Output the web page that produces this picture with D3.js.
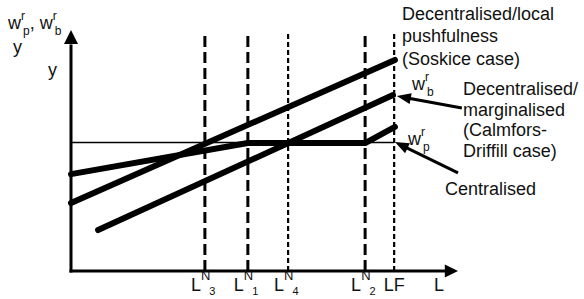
<!DOCTYPE html>
<html>
<head>
<meta charset="utf-8">
<script src="https://cdn.jsdelivr.net/npm/d3@7"></script>
<style>
  body { margin: 0; background: #fff; }
  text { font-family: "Liberation Sans", Arial, Helvetica, sans-serif; fill: #111; }
</style>
</head>
<body>
<div id="chart"></div>
<script>
// Positions along L (0..100) and wage (0..100)
var markerSubs = ["3", "1", "4", "2"];
var markerPos = [34.6, 45.7, 56.1, 76.0];
var markerHeavy = [true, true, false, true];
var lfPos = 83.5;

// the three real wage lines
var soskiceX = [0, 83.7],
    soskiceY = [28.2, 87.6];
var marginalX = [7.0, 83.2],
    marginalY = [17.0, 73.0];
var centralX = [0, 45.7, 76.0, 83.7],
    centralY = [40.2, 53.1, 53.1, 59.8];

// flat y line
var flatLevel = 53.3;

// annotation arrows: [tailX, tailY, tipX, tipY]
var arrowB = [101.0, 67.6, 84.2, 72.6];
var arrowP = [100.0, 40.7, 83.7, 53.5];

var width = 584,
    height = 299;

var x = d3.scaleLinear().domain([0, 100]).range([71, 458]);
var y = d3.scaleLinear().domain([0, 100]).range([271, 30]);

var svg = d3.select("#chart")
            .append("svg")
              .attr("width", width)
              .attr("height", height);

var line = d3.line()
             .x(function(d) { return x(d[0]); })
             .y(function(d) { return y(d[1]); });

// Dashed vertical lines
var dashTop = 98.5;
svg.selectAll(".marker")
   .data(markerPos)
   .enter()
   .append("line")
     .attr("x1", function(d) { return x(d); })
     .attr("x2", function(d) { return x(d); })
     .attr("y1", y(0))
     .attr("y2", y(dashTop))
     .attr("stroke", "#000")
     .attr("stroke-width", function(d, i) { return markerHeavy[i] ? 3 : 2.2; })
     .attr("stroke-dasharray", function(d, i) { return markerHeavy[i] ? "11,5" : "5,3"; });

svg.append("line")
   .attr("x1", x(lfPos)).attr("x2", x(lfPos))
   .attr("y1", y(0)).attr("y2", y(dashTop))
   .attr("stroke", "#000")
   .attr("stroke-width", 2.2)
   .attr("stroke-dasharray", "5,3");

// thin horizontal line
svg.append("line")
   .attr("x1", x(0)).attr("x2", x(lfPos))
   .attr("y1", y(flatLevel)).attr("y2", y(flatLevel))
   .attr("stroke", "#000")
   .attr("stroke-width", 1.6);

// thick lines
var series = [
  d3.zip(soskiceX, soskiceY),
  d3.zip(marginalX, marginalY),
  d3.zip(centralX, centralY)
];
svg.selectAll(".wage")
   .data(series)
   .enter()
   .append("path")
     .attr("d", line)
     .attr("fill", "none")
     .attr("stroke", "#000")
     .attr("stroke-width", 6)
     .attr("stroke-linecap", "round")
     .attr("stroke-linejoin", "round");

// Axes
svg.append("line")
   .attr("x1", x(0)).attr("x2", x(0))
   .attr("y1", y(0) + 1.5).attr("y2", y(94))
   .attr("stroke", "#000").attr("stroke-width", 3);
svg.append("path")
   .attr("d", "M" + (x(0) - 7) + "," + y(94.2) + "L" + x(0) + "," + y(100) + "L" + (x(0) + 7) + "," + y(94.2) + "Z")
   .attr("fill", "#000");

svg.append("line")
   .attr("x1", x(0) - 1.5).attr("x2", x(96.8))
   .attr("y1", y(0)).attr("y2", y(0))
   .attr("stroke", "#000").attr("stroke-width", 3);
svg.append("path")
   .attr("d", "M" + x(96.6) + "," + (y(0) - 6.5) + "L" + x(100) + "," + y(0) + "L" + x(96.6) + "," + (y(0) + 6.5) + "Z")
   .attr("fill", "#000");

// Annotation arrows
function arrow(a) {
  var x1 = x(a[0]), y1 = y(a[1]), x2 = x(a[2]), y2 = y(a[3]);
  var dx = x2 - x1, dy = y2 - y1, len = Math.sqrt(dx * dx + dy * dy);
  var ux = dx / len, uy = dy / len;
  var hl = 14, hw = 5.5;
  var bx = x2 - ux * hl, by = y2 - uy * hl;
  svg.append("line")
     .attr("x1", x1).attr("y1", y1)
     .attr("x2", bx + ux * 2).attr("y2", by + uy * 2)
     .attr("stroke", "#000").attr("stroke-width", 3);
  svg.append("path")
     .attr("d", "M" + x2 + "," + y2 +
                "L" + (bx - uy * hw) + "," + (by + ux * hw) +
                "L" + (bx + uy * hw) + "," + (by - ux * hw) + "Z")
     .attr("fill", "#000");
}
arrow(arrowB);
arrow(arrowP);

// Text helpers
var fs = 18, small = 12;

function wLabel(g, xx, yy, sub) {
  var t = g.append("text").attr("x", xx).attr("y", yy).style("font-size", fs + "px");
  t.append("tspan").text("w");
  t.append("tspan").attr("dy", -9).style("font-size", small + "px").text("r");
  t.append("tspan").attr("dy", 15).attr("dx", -2).style("font-size", small + "px").text(sub);
  return t;
}

// Top left axis title
var t0 = svg.append("text").attr("x", 8).attr("y", 29).style("font-size", fs + "px");
t0.append("tspan").text("w");
t0.append("tspan").attr("dy", -9).style("font-size", small + "px").text("r");
t0.append("tspan").attr("dy", 15).attr("dx", -2).style("font-size", small + "px").text("p");
t0.append("tspan").attr("dy", -6).text(", w");
t0.append("tspan").attr("dy", -9).style("font-size", small + "px").text("r");
t0.append("tspan").attr("dy", 15).attr("dx", -2).style("font-size", small + "px").text("b");

svg.append("text").attr("x", 13).attr("y", 53).style("font-size", fs + "px").text("y");
svg.append("text").attr("x", 48).attr("y", 76).style("font-size", fs + "px").text("y");

// Right labels
var g = svg.append("g");
["Decentralised/local", "pushfulness", "(Soskice case)"].forEach(function(s, i) {
  g.append("text").attr("x", 402).attr("y", 19.5 + i * 22.5).style("font-size", fs + "px").text(s);
});
["Decentralised/", "marginalised", "(Calmfors-", "Driffill case)"].forEach(function(s, i) {
  g.append("text").attr("x", 463).attr("y", 95 + i * 20.7).style("font-size", fs + "px").text(s);
});
g.append("text").attr("x", 445).attr("y", 195).style("font-size", fs + "px").text("Centralised");

wLabel(g, 412, 90, "b");
wLabel(g, 408, 145, "p");

// Bottom labels
markerPos.forEach(function(d, i) {
  var t = svg.append("text").attr("x", x(d) - 14).attr("y", 291).style("font-size", fs + "px");
  t.append("tspan").text("L");
  t.append("tspan").attr("dy", -11).style("font-size", "13px").text("N");
  t.append("tspan").attr("dy", 15).attr("dx", -1).style("font-size", "11px").text(markerSubs[i]);
});
svg.append("text").attr("x", x(lfPos)).attr("y", 291).attr("text-anchor", "middle")
   .style("font-size", fs + "px").text("LF");
svg.append("text").attr("x", 439).attr("y", 291).attr("text-anchor", "middle")
   .style("font-size", fs + "px").text("L");
</script>
</body>
</html>
